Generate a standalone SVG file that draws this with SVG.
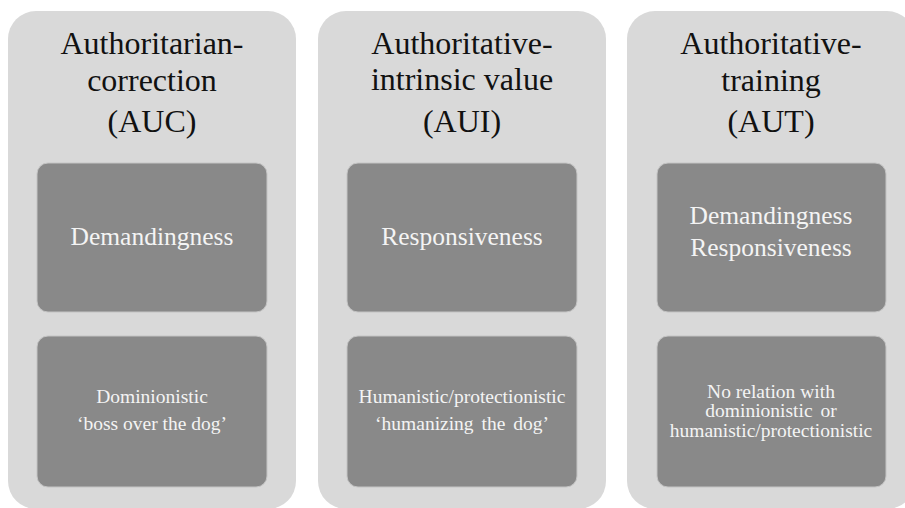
<svg xmlns="http://www.w3.org/2000/svg" width="905" height="508" viewBox="0 0 905 508" font-family="Liberation Serif">
  <style>
    .panel { fill: #d9d9d9; }
    .box { fill: #898989; stroke: #c4c4c4; stroke-width: 1; }
    .title { font-size: 32px; fill: #111111; text-anchor: middle; }
    .main { font-size: 25.5px; fill: #f4f4f4; text-anchor: middle; }
    .note { font-size: 19.5px; fill: #f4f4f4; text-anchor: middle; }
  </style>
  <rect width="905" height="508" fill="#ffffff"/>

  <!-- Authoritarian-correction column -->
  <g id="auc">
    <rect class="panel" x="8" y="11" width="288" height="498" rx="28"/>
    <text class="title" x="152" y="54">Authoritarian-</text>
    <text class="title" x="152" y="91">correction</text>
    <text class="title" x="152" y="132">(AUC)</text>
    <g id="auc-dimension">
      <rect class="box" x="37" y="163" width="230" height="149" rx="11"/>
      <text class="main" x="152" y="245">Demandingness</text>
    </g>
    <g id="auc-orientation">
      <rect class="box" x="37" y="336" width="230" height="151" rx="11"/>
      <text class="note" x="152" y="403">Dominionistic</text>
      <text class="note" x="152" y="430">‘boss over the dog’</text>
    </g>
  </g>

  <!-- Authoritative-intrinsic value column -->
  <g id="aui">
    <rect class="panel" x="318" y="11" width="288" height="498" rx="28"/>
    <text class="title" x="462" y="54">Authoritative-</text>
    <text class="title" x="462" y="90">intrinsic value</text>
    <text class="title" x="462" y="132">(AUI)</text>
    <g id="aui-dimension">
      <rect class="box" x="347" y="163" width="230" height="149" rx="11"/>
      <text class="main" x="462" y="245">Responsiveness</text>
    </g>
    <g id="aui-orientation">
      <rect class="box" x="347" y="336" width="230" height="151" rx="11"/>
      <text class="note" x="462" y="403">Humanistic/protectionistic</text>
      <text class="note" x="462" y="430" word-spacing="3">‘humanizing the dog’</text>
    </g>
  </g>

  <!-- Authoritative-training column -->
  <g id="aut">
    <rect class="panel" x="627" y="11" width="288" height="498" rx="28"/>
    <text class="title" x="771" y="54">Authoritative-</text>
    <text class="title" x="771" y="91">training</text>
    <text class="title" x="771" y="132">(AUT)</text>
    <g id="aut-dimension">
      <rect class="box" x="657" y="163" width="229" height="149" rx="11"/>
      <text class="main" x="771" y="224">Demandingness</text>
      <text class="main" x="771" y="256">Responsiveness</text>
    </g>
    <g id="aut-orientation">
      <rect class="box" x="657" y="336" width="229" height="151" rx="11"/>
      <text class="note" x="771" y="398">No relation with</text>
      <text class="note" x="771" y="417" word-spacing="3">dominionistic or</text>
      <text class="note" x="771" y="437">humanistic/protectionistic</text>
    </g>
  </g>

  <!-- no connectors in this layout -->
  <g id="connectors"/>
</svg>
